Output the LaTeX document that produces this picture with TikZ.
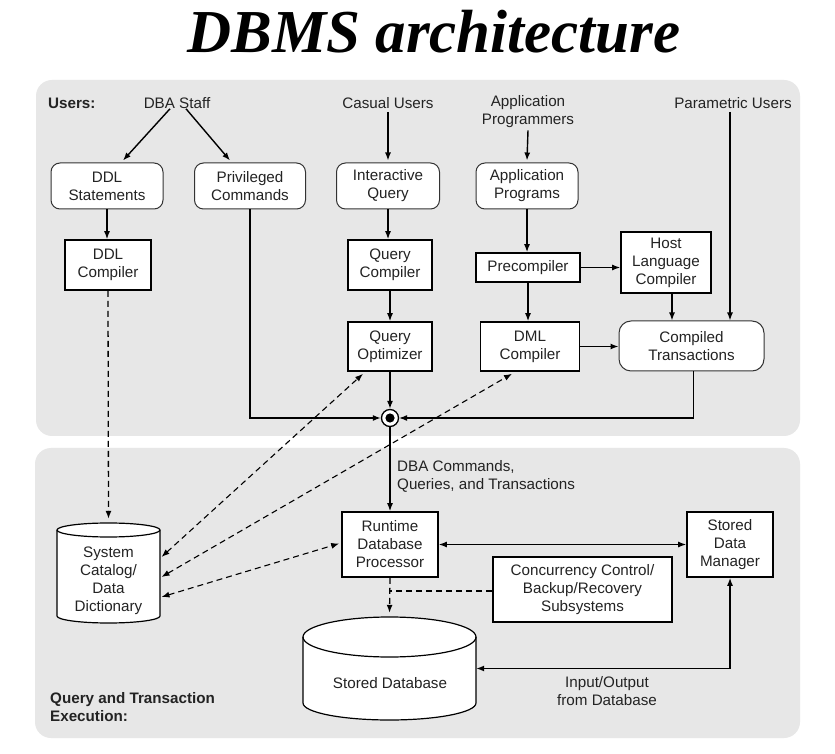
\documentclass[tikz,border=0pt]{standalone}
\usepackage{fontspec}
\setmainfont{Liberation Sans}
\newfontfamily\titlefont{Liberation Serif}
\usetikzlibrary{arrows.meta}
\definecolor{panelgray}{RGB}{231,231,231}
\definecolor{ink}{RGB}{35,35,35}
\begin{document}
\begin{tikzpicture}[x=1pt,y=1pt,
 every node/.style={font=\fontsize{15.2}{18}\selectfont, text=ink, align=center, inner sep=0pt},
 box/.style={draw=black, line width=1.6, fill=white},
 rbox/.style={draw=black!80, line width=1, fill=white, rounded corners=9},
 arr/.style={-{Latex[length=8,width=6]}, line width=1.4},
 darr/.style={{Latex[length=8,width=6]}-{Latex[length=8,width=6]}, line width=1.1, dash pattern=on 6pt off 4pt},
 dline/.style={line width=1.3, dash pattern=on 6pt off 4pt},
 panel/.style={fill=panelgray, rounded corners=16},
 cyl/.style={draw=black, line width=1.2, fill=white}
]
\useasboundingbox (0,0) rectangle (835,753);
\fill[white] (0,0) rectangle (835,753);

% title
\node[text=black, anchor=base] (title) at (434,700) {\titlefont\bfseries\itshape\fontsize{61}{61}\selectfont DBMS architecture};

% panels
\fill[panel] (36,317) rectangle (800,673);
\fill[panel] (35,15) rectangle (800,305);

% user labels
\node[anchor=west] (users) at (48,650) {\bfseries Users:};
\node (dba) at (177,650) {DBA Staff};
\node (casual) at (388,650) {Casual Users};
\node (appprog) at (528,641) {Application\\Programmers};
\node (param) at (733,650) {Parametric Users};

% top boxes
\node[rbox, minimum width=112, minimum height=46] (ddlst) at (107,567) {DDL\\Statements};
\node[rbox, minimum width=111, minimum height=46] (priv) at (250,567) {Privileged\\Commands};
\node[rbox, minimum width=103, minimum height=46] (interq) at (388,567) {Interactive\\Query};
\node[rbox, minimum width=102, minimum height=46] (appprg) at (527,567) {Application\\Programs};
\node[box, minimum width=86, minimum height=50] (ddlc) at (108,488) {DDL\\Compiler};
\node[box, minimum width=84, minimum height=50] (qcomp) at (390,488) {Query\\Compiler};
\node[box, minimum width=104, minimum height=29] (precomp) at (528,485.5) {Precompiler};
\node[box, minimum width=90, minimum height=61] (host) at (666,490.5) {Host\\Language\\Compiler};
\node[box, minimum width=84, minimum height=49] (qopt) at (390,406.5) {Query\\Optimizer};
\node[box, minimum width=99, minimum height=49] (dml) at (530,406.5) {DML\\Compiler};
\node[rbox, minimum width=145, minimum height=50, rounded corners=12] (compiled) at (691.5,407) {Compiled\\Transactions};
\node[circle, draw=black, fill=white, line width=1.3, minimum size=17] (circ) at (390,335) {};
\fill[black] (circ.center) circle (4.6);

% bottom boxes
\node[box, minimum width=96, minimum height=65] (runtime) at (390,208.5) {Runtime\\Database\\Processor};
\node[box, minimum width=86, minimum height=65] (sdm) at (730,208.5) {Stored\\Data\\Manager};
\node[box, minimum width=179, minimum height=65] (conc) at (582.5,163.5) {Concurrency Control/\\Backup/Recovery\\Subsystems};

% cylinders
\node[minimum width=103, minimum height=100] (cat) at (108.5,180) {};
\draw[cyl] (57,223) -- (57,137) arc[start angle=180,end angle=360,x radius=51.5,y radius=7]
  -- (160,223) arc[start angle=0,end angle=180,x radius=51.5,y radius=7] -- cycle;
\draw[line width=1.2] (57,223) arc[start angle=180,end angle=360,x radius=51.5,y radius=7];
\node (catt) at (108.5,172.5) {System\\Catalog/\\Data\\Dictionary};

\node[minimum width=173, minimum height=103] (sdb) at (389.5,84.5) {};
\draw[cyl] (303,116) -- (303,50) arc[start angle=180,end angle=360,x radius=86.5,y radius=17]
  -- (476,116) arc[start angle=0,end angle=180,x radius=86.5,y radius=20] -- cycle;
\draw[line width=1.2] (303,116) arc[start angle=180,end angle=360,x radius=86.5,y radius=20];
\node (sdbt) at (390,70) {Stored Database};

% labels
\node[anchor=west, align=left] (dbacmd) at (397,277) {DBA Commands,\\Queries, and Transactions};
\node (io) at (607,62) {Input/Output\\from Database};
\node[anchor=west, align=left] (qte) at (50,46) {\bfseries Query and Transaction\\\bfseries Execution:};

% solid arrows
\draw[arr] ([xshift=-7]dba.south) -- ([xshift=16,yshift=2]ddlst.north);
\draw[arr] ([xshift=9]dba.south) -- ([xshift=-20,yshift=2]priv.north);
\draw[arr] ([yshift=-3]casual.south) -- ([yshift=2]interq.north);
\draw[arr] ([yshift=-2]appprog.south) -- ([yshift=2]appprg.north);
\draw[arr] ([xshift=-3,yshift=-3]param.south) -- ([xshift=-3]param.south |- compiled.north);
\draw[arr] (ddlst.south) -- (ddlst.south |- ddlc.north);
\draw[arr] (interq.south) -- (interq.south |- qcomp.north);
\draw[arr] (qcomp.south) -- (qopt.north);
\draw[arr] (appprg.south) -- (appprg.south |- precomp.north);
\draw[arr] (precomp.east) -- (host.west |- precomp.east);
\draw[arr] (precomp.south) -- (precomp.south |- dml.north);
\draw[arr] ([xshift=6]host.south) -- ([xshift=6]host.south |- compiled.north);
\draw[arr] (dml.east) -- (compiled.west |- dml.east);
\draw[arr] (qopt.south) -- (circ.north);
\draw[arr] (priv.south) |- (circ.west);
\draw[arr, line width=1.1] ([xshift=2]compiled.south) |- (circ.east);
\draw[arr] (circ.south) -- (runtime.north);
\draw[{Latex[length=8,width=6]}-{Latex[length=8,width=6]}, line width=1.4] (runtime.east) -- (sdm.west);
\draw[{Latex[length=8,width=6]}-{Latex[length=8,width=6]}, line width=1.4] (sdm.south) |- (sdb.east);

% dashed
\draw[dline, -{Latex[length=8,width=6]}] (ddlc.south) -- ([yshift=4]cat.north);
\draw[darr] ([xshift=53,yshift=16]cat.center) -- ([xshift=-27,yshift=-2]qopt.south);
\draw[darr] ([xshift=53,yshift=-4]cat.center) -- ([xshift=-18,yshift=-2]dml.south);
\draw[darr] ([xshift=53,yshift=-24]cat.center) -- ([xshift=-2,yshift=1]runtime.west);
\draw[dline, -{Latex[length=8,width=6]}] (runtime.south) -- ([yshift=4]sdb.north);
\draw[dline] ([yshift=-1.5]conc.west) -- ([yshift=-1.5]conc.west -| runtime.south);
\end{tikzpicture}
\end{document}
